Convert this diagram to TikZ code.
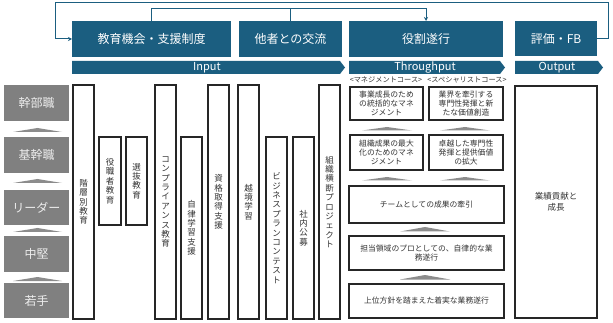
\documentclass[tikz,border=0pt]{standalone}
\usepackage{fontspec}
\setmainfont{Noto Sans CJK JP}
\usetikzlibrary{arrows.meta}
\definecolor{teal1}{HTML}{1B5E80}
\definecolor{lvgray}{HTML}{808080}
\definecolor{trigray}{HTML}{8C8C8C}
\definecolor{bord}{HTML}{262626}
\definecolor{txt}{HTML}{333333}
\begin{document}
\begin{tikzpicture}[x=1pt,y=-1pt,
 R/.style n args={4}{at={({(#1+#3)/2},{(#2+#4)/2})}, minimum width={(#3-#1)*1pt}, minimum height={(#4-#2)*1pt}, inner sep=0pt, outer sep=0pt, anchor=center},
 head/.style={fill=teal1, draw=none, text=white, font=\fontsize{12}{14}\selectfont},
 bandshape/.style={fill=teal1},
 bandtext/.style={text=white, font=\fontsize{11}{13}\selectfont, inner sep=0pt},
 level/.style={fill=lvgray, text=white!93!black, font=\fontsize{12}{14}\selectfont},
 tri/.style={fill=trigray},
 vbox/.style={draw=bord, line width=1.1pt, fill=white, text=txt, align=center, font=\fontsize{8.5}{9.4}\selectfont},
 hbox/.style={draw=bord, line width=1.1pt, fill=white, text=txt, align=center, font=\fontsize{7.8}{9}\selectfont},
 course/.style={text=txt, font=\fontsize{7.2}{8}\selectfont, inner sep=0pt},
 fbline/.style={draw=teal1, line width=1pt},
 tip/.style={-{Stealth[length=4pt,width=4pt]}},
]
\useasboundingbox (0,0) rectangle (613,323);

% header boxes
\node[head, R={72}{21}{231}{57}] (edu) {教育機会・支援制度};
\node[head, R={239}{21}{342}{57}] (other) {他者との交流};
\node[head, R={349}{21}{503}{57}] (role) {役割遂行};
\node[head, R={515}{21}{597}{56}] (fb) {評価・FB};

% bands
\fill[bandshape] (72,61) -- (340,61) -- (345,67.5) -- (340,74) -- (72,74) -- cycle;
\fill[bandshape] (349,61) -- (500,61) -- (505,67.5) -- (500,74) -- (349,74) -- cycle;
\fill[bandshape] (515,61) -- (598,61) -- (603,67.5) -- (598,74) -- (515,74) -- cycle;
\node[bandtext] (tin) at (207,67.5) {Input};
\node[bandtext] (tthr) at (425,67.5) {Throughput};
\node[bandtext] (tout) at (557,67.5) {Output};

% feedback lines
\coordinate (c1) at (608,3);
\coordinate (c2) at (55,3);
\coordinate (d1) at (152,9);
\draw[fbline, tip] (fb.east) -| (c1) -- (c2) |- (edu.west);
\draw[fbline, tip] (edu.north) -- (edu.north |- d1) -| (role.north);
\draw[fbline] (other.north) -- (other.north |- d1);

% levels
\node[level, R={4}{85}{69}{121}] (lv1) {幹部職};
\node[level, R={4}{137}{69}{173}] (lv2) {基幹職};
\node[level, R={4}{190}{69}{225}] (lv3) {リーダー};
\node[level, R={4}{236}{69}{272}] (lv4) {中堅};
\node[level, R={4}{283}{69}{318}] (lv5) {若手};
\fill[tri] (13,132) -- (62,132) -- (37.5,128) -- cycle;
\fill[tri] (13,183) -- (62,183) -- (37.5,179) -- cycle;
\fill[tri] (13,232) -- (62,232) -- (37.5,228) -- cycle;
\fill[tri] (13,281) -- (62,281) -- (37.5,277) -- cycle;

% vertical boxes
\node[vbox, R={73}{85}{94}{319}] (v1) {階\\層\\別\\教\\育};
\node[vbox, R={99}{137}{121}{225}] (v2) {役\\職\\者\\教\\育};
\node[vbox, R={126}{137}{147}{225}] (v3) {選\\抜\\教\\育};
\node[vbox, R={155}{85}{176}{319}] (v4) {コ\\ン\\プ\\ラ\\イ\\ア\\ン\\ス\\教\\育};
\node[vbox, R={181}{137}{202}{319}] (v5) {自\\律\\学\\習\\支\\援};
\node[vbox, R={208}{85}{229}{319}] (v6) {資\\格\\取\\得\\支\\援};
\node[vbox, R={238}{85}{259}{319}] (v7) {越\\境\\学\\習};
\node[vbox, R={266}{137}{287}{319}] (v8) {ビ\\ジ\\ネ\\ス\\プ\\ラ\\ン\\コ\\ン\\テ\\ス\\ト};
\node[vbox, R={293}{137}{314}{319}] (v9) {社\\内\\公\\募};
\node[vbox, R={319}{85}{340}{319}] (v10) {組\\織\\横\\断\\プ\\ロ\\ジ\\ェ\\ク\\ト};

% throughput
\node[course] (mc) at (386,80) {<マネジメントコース>};
\node[course] (sc) at (467,80) {<スペシャリストコース>};
\node[hbox, R={350}{87}{423}{120}] (m1) {事業成長のため\\の統括的なマネ\\ジメント};
\node[hbox, R={429}{87}{503}{120}] (s1) {業界を牽引する\\専門性発揮と新\\たな価値創造};
\node[hbox, R={350}{135}{423}{170}] (m2) {組織成果の最大\\化のためのマネ\\ジメント};
\node[hbox, R={429}{135}{503}{170}] (s2) {卓越した専門性\\発揮と提供価値\\の拡大};
\node[hbox, R={349}{186}{504}{223}] (r3) {チームとしての成果の牽引};
\node[hbox, R={349}{236}{504}{270}] (r4) {担当領域のプロとしての、自律的な業\\務遂行};
\node[hbox, R={349}{284}{504}{318}] (r5) {上位方針を踏まえた着実な業務遂行};
\fill[tri] (362,130.5) -- (412,130.5) -- (387,127) -- cycle;
\fill[tri] (440,130.5) -- (490,130.5) -- (465,127) -- cycle;
\fill[tri] (362,180.5) -- (412,180.5) -- (387,177) -- cycle;
\fill[tri] (440,180.5) -- (490,180.5) -- (465,177) -- cycle;
\fill[tri] (400,231.5) -- (450,231.5) -- (425,227) -- cycle;
\fill[tri] (400,279.5) -- (450,279.5) -- (425,275) -- cycle;

% output
\node[hbox, font=\fontsize{8.5}{11}\selectfont, R={515}{86}{597}{318}] (out) {業績貢献と\\成長};
\end{tikzpicture}
\end{document}
